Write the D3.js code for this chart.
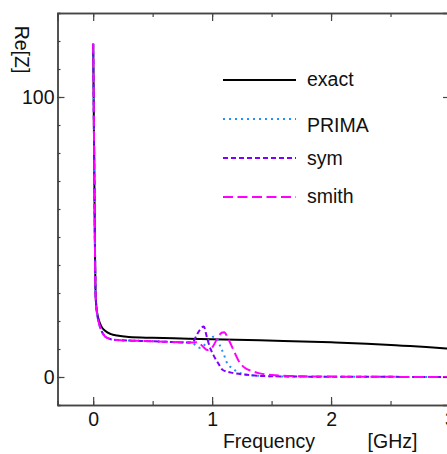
<!DOCTYPE html>
<html>
<head>
<meta charset="utf-8">
<script src="https://cdn.jsdelivr.net/npm/d3@7"></script>
<style>
  html, body { margin: 0; padding: 0; background: #fff; overflow: hidden; }
  text { font-family: "Liberation Sans", Arial, Helvetica, sans-serif; fill: #111; }
</style>
</head>
<body>
<svg id="chart" width="447" height="454"></svg>
<script>
// ---- data ----
const exactFreq = [0, 0.004, 0.008, 0.012, 0.016, 0.02, 0.025, 0.035, 0.05, 0.07, 0.1, 0.15, 0.2, 0.3, 0.5, 0.8, 1.0, 1.3, 1.6, 2.0, 2.3, 2.6, 2.8, 3.0];
const exactVal  = [119, 100, 80, 60, 42, 30, 26, 22.5, 20, 18, 16.5, 15.3, 14.8, 14.3, 14.0, 13.7, 13.5, 13.2, 12.9, 12.4, 11.9, 11.2, 10.7, 10.1];

const primaFreq = [0, 0.004, 0.008, 0.012, 0.016, 0.02, 0.025, 0.035, 0.05, 0.07, 0.1, 0.15, 0.2, 0.4, 0.6, 0.8, 0.84, 0.87, 0.9, 0.94, 0.98, 1.01, 1.04, 1.07, 1.1, 1.12, 1.17, 1.21, 1.26, 1.32, 1.4, 1.6, 2.0, 2.5, 3.0];
const primaVal  = [119, 100, 80, 60, 42, 30, 26, 22, 19, 16.5, 14.5, 13.5, 13.2, 12.9, 12.6, 12.3, 12.0, 11.0, 10.4, 11.6, 13.6, 14.4, 13.8, 10.8, 7.9, 5.5, 3.1, 1.9, 1.1, 0.7, 0.4, 0.2, 0.1, 0.05, 0.0];

const symFreq = [0, 0.004, 0.008, 0.012, 0.016, 0.02, 0.025, 0.035, 0.05, 0.07, 0.1, 0.15, 0.2, 0.4, 0.6, 0.8, 0.84, 0.87, 0.9, 0.93, 0.955, 0.98, 1.01, 1.05, 1.09, 1.18, 1.29, 1.4, 1.6, 2.0, 2.5, 3.0];
const symVal  = [119, 100, 80, 60, 42, 30, 26, 22, 19, 16.5, 14.5, 13.5, 13.2, 12.9, 12.6, 12.3, 12.6, 15.0, 17.0, 18.0, 14.4, 10.8, 7.9, 5.0, 2.5, 1.4, 0.8, 0.4, 0.2, 0.1, 0.05, 0.0];

const smithFreq = [0, 0.004, 0.008, 0.012, 0.016, 0.02, 0.025, 0.035, 0.05, 0.07, 0.1, 0.15, 0.2, 0.4, 0.6, 0.8, 0.88, 0.92, 0.96, 1.0, 1.04, 1.08, 1.1, 1.14, 1.18, 1.22, 1.28, 1.335, 1.4, 1.5, 1.7, 2.0, 2.5, 3.0];
const smithVal  = [119, 100, 80, 60, 42, 30, 26, 22, 19, 16.5, 14.5, 13.5, 13.2, 12.9, 12.6, 12.3, 12.4, 11.0, 9.6, 10.5, 13.5, 15.8, 16.0, 13.2, 9.6, 6.0, 3.1, 2.1, 1.3, 0.7, 0.3, 0.15, 0.05, 0.0];

const seriesNames  = ["exact", "PRIMA", "sym", "smith"];
const seriesColors = ["#000000", "#1e90ff", "#7f00ff", "#ff00ff"];
const seriesDash   = [null, "2,4", "5,3", "10,4.5"];

const xMajorTicks = [0, 1, 2, 3];
const yMajorTicks = [0, 100];

// ---- layout ----
const svg = d3.select("#chart");
const mLeft = 57.5, mTop = 13, mRight = 450, mBottom = 405;
const FS = 19.5;
const x = d3.scaleLinear().domain([-0.3, 3]).range([mLeft, mRight]);
const y = d3.scaleLinear().domain([-10, 130]).range([mBottom, mTop]);

const series = [
  exactFreq.map((f, i) => [f, exactVal[i]]),
  primaFreq.map((f, i) => [f, primaVal[i]]),
  symFreq.map((f, i) => [f, symVal[i]]),
  smithFreq.map((f, i) => [f, smithVal[i]])
];

svg.append("clipPath").attr("id", "plotclip").append("rect")
  .attr("x", mLeft).attr("y", mTop).attr("width", mRight - mLeft).attr("height", mBottom - mTop);

const line = d3.line().x(d => x(d[0])).y(d => y(d[1])).curve(d3.curveMonotoneX);

const g = svg.append("g").attr("clip-path", "url(#plotclip)");
[0, 1, 2, 3].forEach(i => {
  g.append("path")
    .datum(series[i])
    .attr("fill", "none")
    .attr("stroke", seriesColors[i])
    .attr("stroke-width", 2)
    .attr("stroke-dasharray", seriesDash[i])
    .attr("d", line);
});

// ---- axes ----
const axisColor = "#444";
const xMinor = d3.range(0, 3.01, 0.5);
const yMinor = d3.range(-10, 131, 10);

function styleAxis(sel) {
  sel.select(".domain").attr("stroke", axisColor).attr("stroke-width", 1.4);
  sel.selectAll(".tick line").attr("stroke", axisColor).attr("stroke-width", 1.2);
}

svg.append("g").attr("transform", `translate(0,${mBottom})`)
  .call(d3.axisBottom(x).tickValues(xMinor).tickSize(-4).tickFormat(""))
  .call(styleAxis);
const xb = svg.append("g").attr("transform", `translate(0,${mBottom})`)
  .call(d3.axisBottom(x).tickValues(xMajorTicks).tickSize(-8).tickSizeOuter(0).tickPadding(7).tickFormat(d3.format("d")))
  .call(styleAxis);
xb.selectAll("text").attr("font-size", FS).attr("fill", "#111")
  .attr("font-family", '"Liberation Sans", Arial, sans-serif');

svg.append("g").attr("transform", `translate(0,${mTop})`)
  .call(d3.axisTop(x).tickValues(xMinor).tickSize(-4).tickFormat(""))
  .call(styleAxis);
svg.append("g").attr("transform", `translate(0,${mTop})`)
  .call(d3.axisTop(x).tickValues(xMajorTicks).tickSize(-8).tickFormat(""))
  .call(styleAxis);

svg.append("g").attr("transform", `translate(${mLeft},0)`)
  .call(d3.axisLeft(y).tickValues(yMinor).tickSize(-3).tickFormat(""))
  .call(styleAxis);
const yl = svg.append("g").attr("transform", `translate(${mLeft},0)`)
  .call(d3.axisLeft(y).tickValues(yMajorTicks).tickSize(-7).tickSizeOuter(0).tickPadding(3).tickFormat(d3.format("d")))
  .call(styleAxis);
yl.selectAll("text").attr("font-size", FS).attr("fill", "#111")
  .attr("font-family", '"Liberation Sans", Arial, sans-serif');

svg.append("g").attr("transform", `translate(${mRight},0)`)
  .call(d3.axisRight(y).tickValues(yMinor).tickSize(-3).tickFormat(""))
  .call(styleAxis);
svg.append("g").attr("transform", `translate(${mRight},0)`)
  .call(d3.axisRight(y).tickValues(yMajorTicks).tickSize(-7).tickFormat(""))
  .call(styleAxis);

// axis titles
svg.append("text").attr("x", 269).attr("y", 448).attr("text-anchor", "middle")
  .attr("font-size", FS).text("Frequency");
svg.append("text").attr("x", 392.5).attr("y", 448).attr("text-anchor", "middle")
  .attr("font-size", FS).text("[GHz]");
svg.append("text").attr("transform", "translate(15,49.5) rotate(90)")
  .attr("text-anchor", "middle").attr("font-size", FS).text("Re[Z]");

// ---- legend ----
const legendY = [80, 119, 158, 197];
const legendBase = [86, 131.5, 164.5, 203.3];
seriesNames.forEach((name, i) => {
  svg.append("line")
    .attr("x1", 223).attr("x2", 296)
    .attr("y1", legendY[i]).attr("y2", legendY[i])
    .attr("stroke", seriesColors[i]).attr("stroke-width", 2)
    .attr("stroke-dasharray", seriesDash[i]);
  svg.append("text")
    .attr("x", 307).attr("y", legendBase[i])
    .attr("font-size", FS).text(name);
});
</script>
</body>
</html>
